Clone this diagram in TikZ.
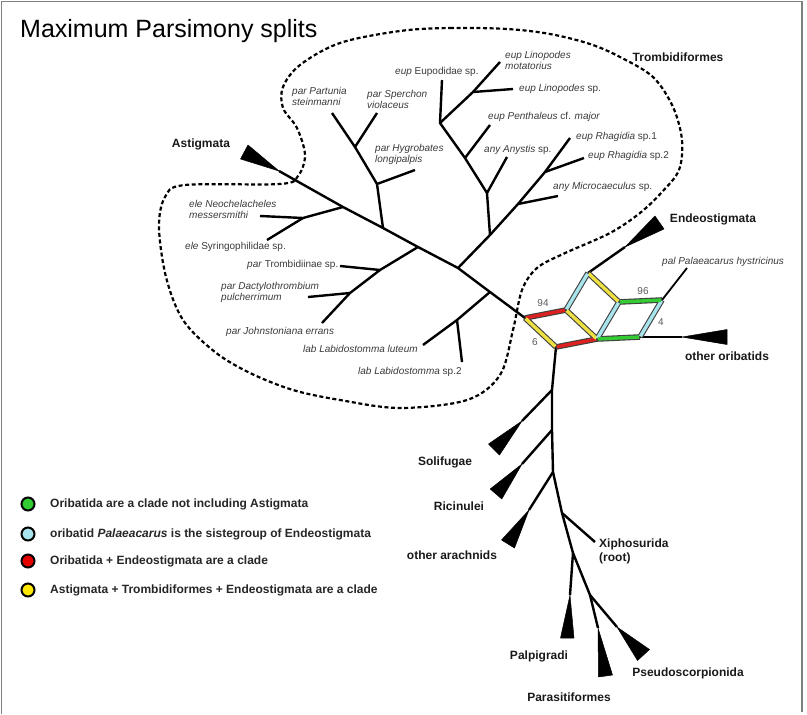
\documentclass[tikz,border=0pt]{standalone}
\usepackage{fontspec}
\setmainfont{Liberation Sans}
\usetikzlibrary{calc}
\definecolor{sgreen}{HTML}{33CC33}
\definecolor{scyan}{HTML}{A8E4EC}
\definecolor{sred}{HTML}{DD2020}
\definecolor{syellow}{HTML}{EEE040}
\definecolor{labgray}{HTML}{3A3A3A}
\begin{document}
\begin{tikzpicture}[x=1pt,y=-1pt,
  br/.style={line width=2.4pt, line join=round},
  lab/.style={font=\fontsize{10}{11}\selectfont, text=labgray, inner sep=0pt, anchor=west, align=left},
  blab/.style={font=\bfseries\fontsize{12}{14}\selectfont, text=black!90, inner sep=0pt},
  num/.style={font=\fontsize{10}{11}\selectfont, text=black!65, inner sep=0pt},
  leg/.style={font=\bfseries\fontsize{12}{14}\selectfont, text=black!85, inner sep=0pt, anchor=west},
  legdot/.style={circle, draw=black, line width=2pt, minimum size=13pt, inner sep=0pt},
  wedge/.style={fill=black, draw=black, line width=0.5pt, line join=round},
  splitout/.style={line width=5.6pt, draw=black!75},
  splitin/.style={line width=3.4pt}
]
\useasboundingbox (0,0) rectangle (807,715);
\draw[gray, line width=1.4pt] (1.5,714) -- (1.5,1.5) -- (802,1.5) -- (802,712);

% title
\node[anchor=west, inner sep=0pt, font=\fontsize{25}{28}\selectfont] (title) at (20,31) {Maximum Parsimony splits};

% dashed outline of Trombidiformes
\draw[line width=2.2pt, dash pattern=on 4pt off 2.6pt] plot[smooth cycle, tension=0.55] coordinates {
 (400,31) (450,28) (507,29) (550,34) (590,44) (620,57) (653,77) (673,107) (682,140)
 (679,170) (662,192) (640,213) (610,233) (563,254) (537,268) (522,290) (513,330)
 (500,375) (467,400) (400,408) (340,400) (293,390) (250,373) (215,352) (183,320)
 (166,277) (159,227) (165,197) (185,185) (280,184) (298,176) (305,155) (297,128)
 (283,108) (283,87) (300,65) (340,43)};

% ---------- coordinates ----------
\coordinate (astA) at (279,171);
\coordinate (b1) at (343,207);
\coordinate (b2) at (383,228);
\coordinate (b3) at (418,247);
\coordinate (b4) at (458,268);
\coordinate (b5) at (490,292);
\coordinate (A) at (525,318);
% ele
\coordinate (e1) at (303,218);
\coordinate (eNeo) at (260,216);
\coordinate (eSyr) at (267,240);
% hygrobates clade
\coordinate (h1) at (377,184);
\coordinate (hHyg) at (415,170);
\coordinate (s1) at (355,147);
\coordinate (sSpe) at (377,113);
\coordinate (sPar) at (332,113);
% trombidiinae clade
\coordinate (t1) at (380,270);
\coordinate (tTro) at (340,266);
\coordinate (t2) at (350,293);
\coordinate (tDac) at (308,297);
\coordinate (tJoh) at (322,323);
% upper clade
\coordinate (u1) at (490,235);
\coordinate (u2) at (487,193);
\coordinate (uAny) at (507,157);
\coordinate (p1) at (465,158);
\coordinate (pPen) at (490,125);
\coordinate (u3) at (440,123);
\coordinate (uEup) at (442,80);
\coordinate (l1) at (473,92);
\coordinate (lSp) at (513,89);
\coordinate (lMot) at (500,62);
\coordinate (r1) at (518,204);
\coordinate (rMic) at (558,196);
\coordinate (r2) at (545,172);
\coordinate (rRh2) at (584,158);
\coordinate (rRh1) at (570,138);
% labidostomma
\coordinate (lb) at (457,320);
\coordinate (lbLut) at (423,345);
\coordinate (lbSp2) at (462,362);
% splits network
\coordinate (B) at (566,310);
\coordinate (C) at (556,347);
\coordinate (D) at (597,339);
\coordinate (E) at (588,273);
\coordinate (F) at (619,302);
\coordinate (G) at (662,300);
\coordinate (H) at (640,337);
\coordinate (endA) at (625,247);
\coordinate (pal) at (687,268);
\coordinate (oriA) at (682,337);
% trunk
\coordinate (k1) at (552,390);
\coordinate (k2) at (552,430);
\coordinate (k3) at (553,472);
\coordinate (k4) at (562,513);
\coordinate (k5) at (573,553);
\coordinate (k6) at (590,595);
\coordinate (solA) at (522,421);
\coordinate (ricA) at (522,464);
\coordinate (othA) at (529,510);
\coordinate (xip) at (595,542);
\coordinate (palpA) at (570,595);
\coordinate (paraA) at (598,628);
\coordinate (pseA) at (617,627);

% ---------- branches ----------
\draw[br] (astA) -- (b1) -- (b2) -- (b3) -- (b4) -- (b5) -- (A);
\draw[br] (b1) -- (e1) -- (eNeo);
\draw[br] (e1) -- (eSyr);
\draw[br] (b2) -- (h1) -- (hHyg);
\draw[br] (h1) -- (s1) -- (sSpe);
\draw[br] (s1) -- (sPar);
\draw[br] (b3) -- (t1) -- (tTro);
\draw[br] (t1) -- (t2) -- (tDac);
\draw[br] (t2) -- (tJoh);
\draw[br] (b4) -- (u1) -- (u2) -- (uAny);
\draw[br] (u2) -- (p1) -- (pPen);
\draw[br] (p1) -- (u3) -- (uEup);
\draw[br] (u3) -- (l1) -- (lSp);
\draw[br] (l1) -- (lMot);
\draw[br] (u1) -- (r1) -- (rMic);
\draw[br] (r1) -- (r2) -- (rRh2);
\draw[br] (r2) -- (rRh1);
\draw[br] (b5) -- (lb) -- (lbLut);
\draw[br] (lb) -- (lbSp2);
\draw[br] (E) -- (endA);
\draw[br, line width=1.8pt] (G) -- (pal);
\draw[br] (H) -- (oriA);
\draw[br] (C) -- (k1) -- (k2) -- (k3) -- (k4) -- (k5) -- (k6) -- (pseA);
\draw[br] (k1) -- (solA);
\draw[br] (k2) -- (ricA);
\draw[br] (k3) -- (othA);
\draw[br] (k4) -- (xip);
\draw[br] (k5) -- (palpA);
\draw[br] (k6) -- (paraA);

% ---------- wedges ----------
\fill[wedge] (astA) -- (240.5,159) -- (248,145) -- cycle;
\fill[wedge] (endA) -- (655,216) -- (664,229) -- cycle;
\fill[wedge] (oriA) -- (727,329.5) -- (727,344.5) -- cycle;
\fill[wedge] (solA) -- (488.5,444) -- (499.5,455) -- cycle;
\fill[wedge] (ricA) -- (490.2,489) -- (501.8,499) -- cycle;
\fill[wedge] (othA) -- (501.5,540) -- (514.5,548) -- cycle;
\fill[wedge] (palpA) -- (560.5,638) -- (574,638) -- cycle;
\fill[wedge] (paraA) -- (598.5,677) -- (612.5,675) -- cycle;
\fill[wedge] (pseA) -- (637.5,660.5) -- (649.5,649.5) -- cycle;

% ---------- splits network ----------
\foreach \p/\q/\c in {A/B/sred, C/D/sred, A/C/syellow, B/D/syellow, E/F/syellow,
                      B/E/scyan, D/F/scyan, H/G/scyan, F/G/sgreen, D/H/sgreen}{
  \draw[splitout] (\p) -- (\q);
}
\foreach \p/\q/\c in {A/B/sred, C/D/sred, A/C/syellow, B/D/syellow, E/F/syellow,
                      B/E/scyan, D/F/scyan, H/G/scyan, F/G/sgreen, D/H/sgreen}{
  \draw[splitin, draw=\c, shorten <=0.9pt, shorten >=0.9pt] (\p) -- (\q);
}
\node[num] (n94) at (543,303) {94};
\node[num] (n6) at (535,342) {6};
\node[num] (n96) at (643,291) {96};
\node[num] (n4) at (661,322) {4};

% ---------- taxon labels ----------
\node[lab] (Lpar) at (292,96) {\itshape par Partunia\\\itshape steinmanni};
\node[lab] (Lspe) at (367,99.5) {\itshape par Sperchon\\\itshape violaceus};
\node[lab] (Lhyg) at (375,154.5) {\itshape par Hygrobates\\\itshape longipalpis};
\node[lab] (Leup) at (395,72) {\textit{eup} Eupodidae sp.};
\node[lab] (Lmot) at (505,60) {\itshape eup Linopodes\\\itshape motatorius};
\node[lab] (Llin) at (519,89) {\textit{eup Linopodes} sp.};
\node[lab] (Lpen) at (488,117) {\textit{eup Penthaleus} cf. \textit{major}};
\node[lab] (Lany) at (484,150) {\textit{any Anystis} sp.};
\node[lab] (Lrh1) at (576,137) {\textit{eup Rhagidia} sp.1};
\node[lab] (Lrh2) at (588,156) {\textit{eup Rhagidia} sp.2};
\node[lab] (Lmic) at (553,187) {\textit{any Microcaeculus} sp.};
\node[lab] (Lneo) at (189,209.5) {\itshape ele Neochelacheles\\\itshape messersmithi};
\node[lab] (Lsyr) at (185,247) {\textit{ele} Syringophilidae sp.};
\node[lab] (Ltro) at (247,265) {\textit{par} Trombidiinae sp.};
\node[lab] (Ldac) at (221,292) {\itshape par Dactylothrombium\\\itshape pulcherrimum};
\node[lab] (Ljoh) at (226,332) {\itshape par Johnstoniana errans};
\node[lab] (Llut) at (303,349) {\itshape lab Labidostomma luteum};
\node[lab] (Llsp) at (358,372) {\textit{lab Labidostomma} sp.2};
\node[lab] (Lpal) at (662,262) {\itshape pal Palaeacarus hystricinus};

% bold group labels
\node[blab] (Gast) at (201,144) {Astigmata};
\node[blab] (Gtro) at (678,57) {Trombidiformes};
\node[blab] (Gend) at (713,219) {Endeostigmata};
\node[blab] (Gori) at (727,356) {other oribatids};
\node[blab] (Gsol) at (445,462) {Solifugae};
\node[blab] (Gric) at (459,506) {Ricinulei};
\node[blab] (Goth) at (452,555) {other arachnids};
\node[blab, anchor=west, align=left] (Gxip) at (599,551) {Xiphosurida\\(root)};
\node[blab] (Gpalp) at (539,656) {Palpigradi};
\node[blab] (Gpara) at (569,697) {Parasitiformes};
\node[blab] (Gpse) at (688,673) {Pseudoscorpionida};

% ---------- legend ----------
\node[legdot, fill=sgreen] (d1) at (28,504) {};
\node[legdot, fill=scyan] (d2) at (28,534) {};
\node[legdot, fill=red!90!black] (d3) at (28,561) {};
\node[legdot, fill=yellow!90!orange] (d4) at (28,590) {};
\node[leg] (t1l) at (50,504) {Oribatida are a clade not including Astigmata};
\node[leg] (t2l) at (50,534) {oribatid \textit{Palaeacarus} is the sistegroup of Endeostigmata};
\node[leg] (t3l) at (50,561) {Oribatida + Endeostigmata are a clade};
\node[leg] (t4l) at (50,590) {Astigmata + Trombidiformes + Endeostigmata are a clade};
\end{tikzpicture}
\end{document}
